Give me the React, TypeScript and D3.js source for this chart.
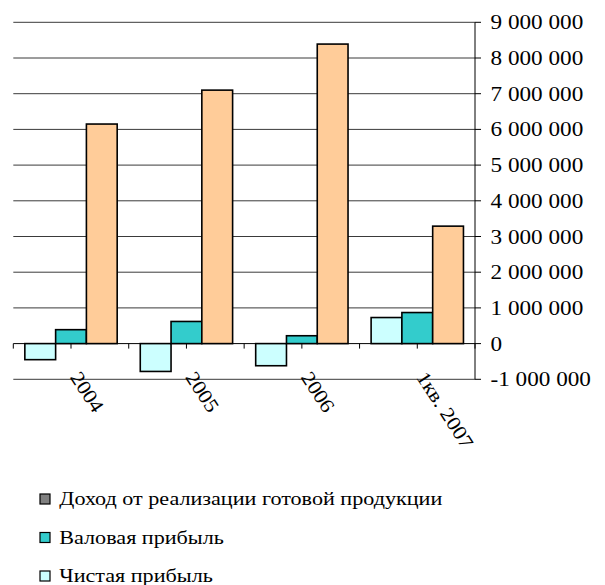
import React from 'react';
import * as d3 from 'd3';

const categories = ['2004', '2005', '2006', '1кв. 2007'];
const netProfit = [-450000, -780000, -620000, 730000];
const grossProfit = [390000, 620000, 220000, 870000];
const revenue = [6150000, 7100000, 8390000, 3290000];
const yTicks = [-1000000, 0, 1000000, 2000000, 3000000, 4000000, 5000000, 6000000, 7000000, 8000000, 9000000];

const seriesNames = ['Чистая прибыль', 'Валовая прибыль', 'Доход от реализации готовой продукции'];
const seriesColors = ['#CCFFFF', '#33CCCC', '#FFCC99'];
// legend markers as drawn in the source (first one is grey there)
const legendNames = ['Доход от реализации готовой продукции', 'Валовая прибыль', 'Чистая прибыль'];
const legendColors = ['#808080', '#33CCCC', '#CCFFFF'];

const W = 605;
const H = 585;
const left = 13.3;
const right = 475;
const top = 22.3;
const bottom = 379.3;
const font = 'Liberation Serif';

const fmt = d3.formatLocale({ decimal: ',', thousands: ' ', grouping: [3], currency: ['', ''], minus: '-' }).format(',d');

const App = () => {
  const data = [netProfit, grossProfit, revenue];

  const x0 = d3.scaleBand<string>().domain(categories).range([left, right]).paddingInner(0.2).paddingOuter(0.1);
  const x1 = d3.scaleBand<number>().domain([0, 1, 2]).range([0, x0.bandwidth()]);
  const y = d3.scaleLinear().domain([-1000000, 9000000]).range([bottom, top]);

  const step = x0.step();
  const tickXs = d3.range(0, categories.length * 2 + 1).map((i) => left + (i * step) / 2);

  return (
    <svg width={W} height={H} style={{ position: 'absolute', left: 0, top: 0, background: '#fff' }}>
      {/* gridlines */}
      {yTicks.map((t) => (
        <line key={'g' + t} x1={left} x2={right} y1={y(t)} y2={y(t)} stroke={t === 0 ? '#000' : '#3a3a3a'} strokeWidth={1} />
      ))}

      {/* bars */}
      {categories.map((c, ci) => (
        <g key={c} transform={`translate(${x0(c)},0)`}>
          {data.map((s, si) => {
            const v = s[ci];
            const y0 = y(0);
            const yv = y(v);
            return (
              <rect
                key={si}
                x={x1(si)}
                y={Math.min(y0, yv)}
                width={x1.bandwidth()}
                height={Math.abs(yv - y0)}
                fill={seriesColors[si]}
                stroke="#000"
                strokeWidth={1.6}
              />
            );
          })}
        </g>
      ))}

      {/* x axis ticks */}
      {tickXs.map((tx, i) => (
        <line key={'xt' + i} x1={tx} x2={tx} y1={y(0)} y2={y(0) + 5} stroke="#000" strokeWidth={1} />
      ))}

      {/* y axis on the right */}
      <line x1={right} x2={right} y1={top} y2={bottom} stroke="#000" strokeWidth={1} />
      {yTicks.map((t) => (
        <g key={'yt' + t}>
          <line x1={right} x2={right + 6} y1={y(t)} y2={y(t)} stroke="#000" strokeWidth={1} />
          <text
            transform={`translate(490.5,${y(t)}) scale(1.16,1)`}
            dy="0.35em"
            fontFamily={font}
            fontSize={20}
            fill="#000"
          >
            {fmt(t)}
          </text>
        </g>
      ))}

      {/* category labels */}
      {categories.map((c) => (
        <text
          key={'cl' + c}
          transform={`translate(${(x0(c) as number) + x0.bandwidth() / 2 + 11},369) rotate(57) scale(1.1,1)`}
          dy="0.75em"
          fontFamily={font}
          fontSize={20}
          fill="#000"
        >
          {c}
        </text>
      ))}

      {/* legend */}
      {legendNames.map((n, i) => {
        const cy = 499 + i * 38.5;
        return (
          <g key={n}>
            <rect x={40} y={cy - 5} width={10} height={10} fill={legendColors[i]} stroke="#000" strokeWidth={1.2} />
            <text transform={`translate(59.3,${cy}) scale(1.23,1)`} dy="0.35em" fontFamily={font} fontSize={18} fill="#000">
              {n}
            </text>
          </g>
        );
      })}
    </svg>
  );
};

export default App;
